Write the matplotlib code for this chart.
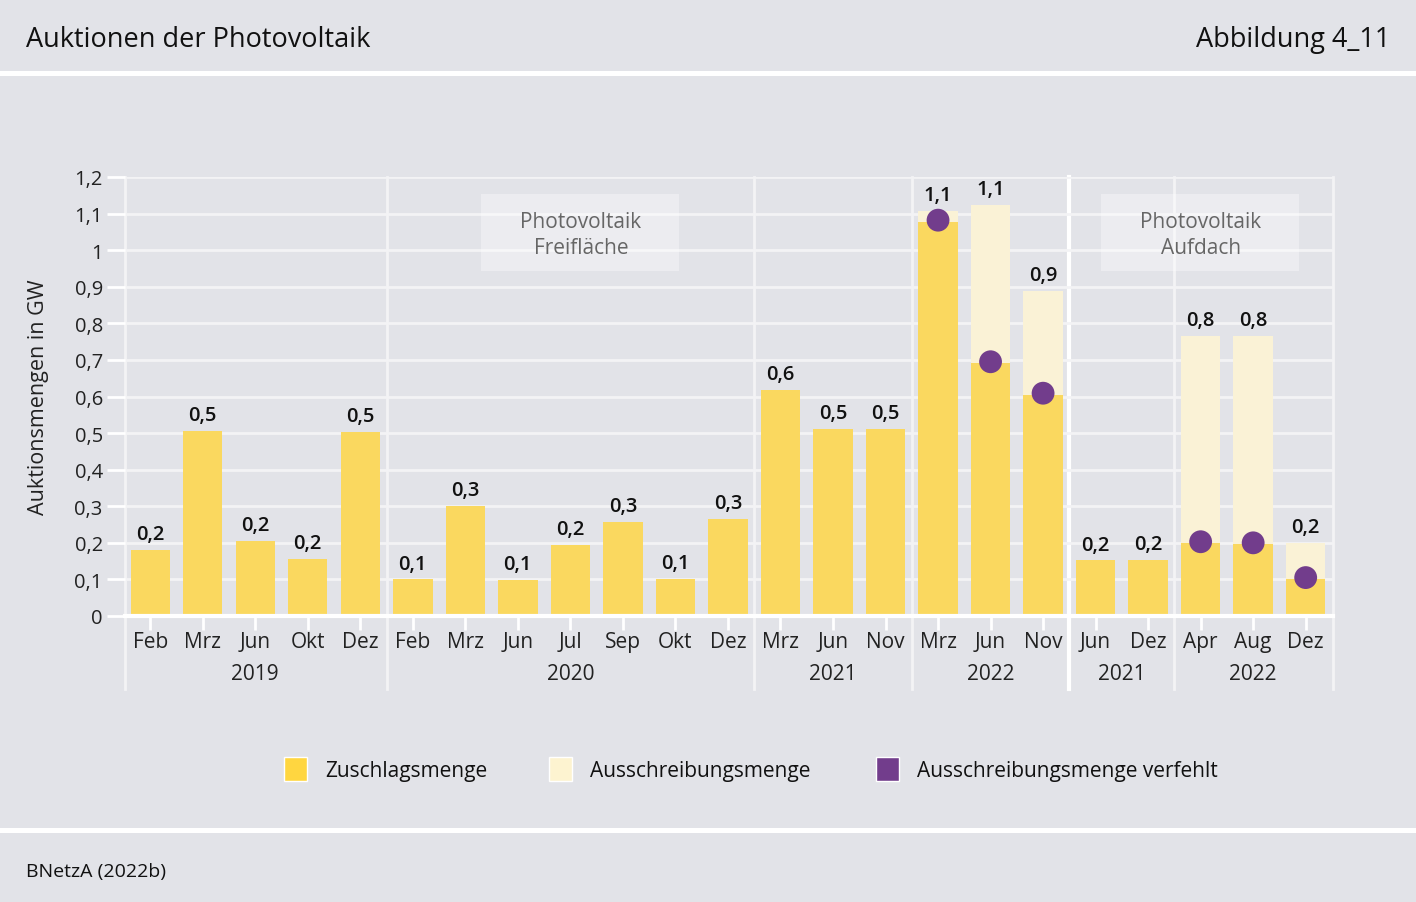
import numpy as np
import matplotlib
matplotlib.use("Agg")
import matplotlib.pyplot as plt
from matplotlib.patches import Rectangle
import matplotlib.transforms as mtransforms

plt.rcParams['font.family'] = ['Open Sans', 'DejaVu Sans']

nan = np.nan
months = ['Feb', 'Mrz', 'Jun', 'Okt', 'Dez',
          'Feb', 'Mrz', 'Jun', 'Jul', 'Sep', 'Okt', 'Dez',
          'Mrz', 'Jun', 'Nov',
          'Mrz', 'Jun', 'Nov',
          'Jun', 'Dez',
          'Apr', 'Aug', 'Dez']
zuschlag = [0.180, 0.505, 0.205, 0.155, 0.502,
            0.100, 0.300, 0.099, 0.194, 0.257, 0.102, 0.265,
            0.619, 0.512, 0.511,
            1.078, 0.691, 0.605,
            0.152, 0.153,
            0.199, 0.196, 0.100]
ausschreibung = [nan] * 15 + [1.107, 1.124, 0.889, nan, nan, 0.766, 0.766, 0.200]
verfehlt = [nan] * 15 + [1.082, 0.695, 0.609, nan, nan, 0.203, 0.200, 0.105]
years = ['2019', '2020', '2021', '2022', '2021', '2022']
year_first = [0, 5, 12, 15, 18, 20]
year_last = [4, 11, 14, 17, 19, 22]
panels = ['Photovoltaik\nFreifläche', 'Photovoltaik\nAufdach']
yticks = [0, 0.1, 0.2, 0.3, 0.4, 0.5, 0.6, 0.7, 0.8, 0.9, 1.0, 1.1, 1.2]

BG = '#e2e3e8'
YEL = '#fad85f'
LYEL = '#faf2d6'
PUR = '#723d8c'

W, H = 1416, 903
fig = plt.figure(figsize=(W / 100, H / 100), dpi=100, facecolor=BG)

def fx(px):
    return px / W

def fy(py):
    return 1 - py / H

# header / footer separators
for y0, y1 in [(72, 77), (829, 834)]:
    fig.patches.append(Rectangle((0, fy(y1)), 1, (y1 - y0) / H, transform=fig.transFigure,
                                 facecolor='white', edgecolor='none'))
fig.text(fx(26), fy(40), 'Auktionen der Photovoltaik', fontsize=19.5, va='center', ha='left', color='#111111')
fig.text(fx(1390), fy(40), 'Abbildung 4_11', fontsize=19.5, va='center', ha='right', color='#111111')
fig.text(fx(26), fy(872), 'BNetzA (2022b)', fontsize=14, va='center', ha='left', color='#111111')

left, right, top, bottom = 125, 1333, 178, 617
ax = fig.add_axes([fx(left), fy(bottom), (right - left) / W, (bottom - top) / H])
ax.set_facecolor(BG)
x = np.arange(len(months))
ax.set_xlim(-0.48, 22.52)
ax.set_ylim(0, 1.2)

ax.set_yticks(yticks)
ax.set_yticklabels([('%g' % v).replace('.', ',') for v in yticks], fontsize=14.5, color='#222222')
ax.yaxis.grid(True, color='#f3f3f5', lw=2, zorder=0)
ax.set_axisbelow(True)
ax.tick_params(axis='y', length=13, width=2, color='white', pad=3)
ax.set_xticks(x)
ax.set_xticklabels(months, fontsize=15, color='#222222')
ax.tick_params(axis='x', length=10, width=2, color='white', pad=1)
for s in ['top', 'right', 'left']:
    ax.spines[s].set_visible(False)
ax.spines['bottom'].set_color('white')
ax.spines['bottom'].set_linewidth(3)
ax.spines['bottom'].set_zorder(5)

ax.set_ylabel('Auktionsmengen in GW', fontsize=15.5, color='#222222', labelpad=18)

# vertical separators
trans = mtransforms.blended_transform_factory(ax.transData, ax.transAxes)
ybot = -(690 - bottom) / (bottom - top)
for xs, col, lw in [(-0.48, '#f3f3f5', 2), (4.5, '#f3f3f5', 2), (11.5, '#f3f3f5', 2),
                    (14.5, '#f3f3f5', 2), (17.5, 'white', 3), (19.5, '#f3f3f5', 2), (22.52, '#f3f3f5', 2)]:
    ax.plot([xs, xs], [ybot, 1], color=col, lw=lw, transform=trans, clip_on=False, zorder=0.5)

# panel label boxes
for (x0, x1, xc), lab in zip([(6.3, 10.07, 8.2), (18.11, 21.87, 20.0)], panels):
    ax.add_patch(Rectangle((x0, 0.943), x1 - x0, 0.211, facecolor='white', alpha=0.35,
                           edgecolor='none', zorder=1))
    ax.text(xc, 1.042, lab, ha='center', va='center', fontsize=15, color='#666666',
            linespacing=1.3, zorder=2)

bw = 0.75
ax.bar(x, ausschreibung, width=bw, color=LYEL, zorder=2)
ax.bar(x, zuschlag, width=bw, color=YEL, zorder=3)
ax.scatter(x, verfehlt, s=270, color=PUR, zorder=4, edgecolors='none')

for xi, z, a in zip(x, zuschlag, ausschreibung):
    v = z if np.isnan(a) else max(z, a)
    ax.text(xi, v + 0.016, ('%.1f' % v).replace('.', ','), ha='center', va='bottom',
            fontsize=14.5, fontweight='semibold', color='#111111', zorder=6)

for lab, a, b in zip(years, year_first, year_last):
    ax.text((a + b) / 2, -(675 - bottom) / (bottom - top), lab, transform=trans,
            ha='center', va='center', fontsize=15, color='#222222')

# legend
for px, col, lab in [(284, '#ffd640', 'Zuschlagsmenge'), (549, '#fdf3d0', 'Ausschreibungsmenge'),
                     (876, PUR, 'Ausschreibungsmenge verfehlt')]:
    fig.patches.append(Rectangle((fx(px), fy(782)), 23 / W, 24 / H, transform=fig.transFigure,
                                 facecolor=col, edgecolor='white', lw=1))
    fig.text(fx(px + 41), fy(771), lab, fontsize=15, va='center', ha='left', color='#111111')

fig.savefig('out.png', dpi=100, facecolor=BG)
